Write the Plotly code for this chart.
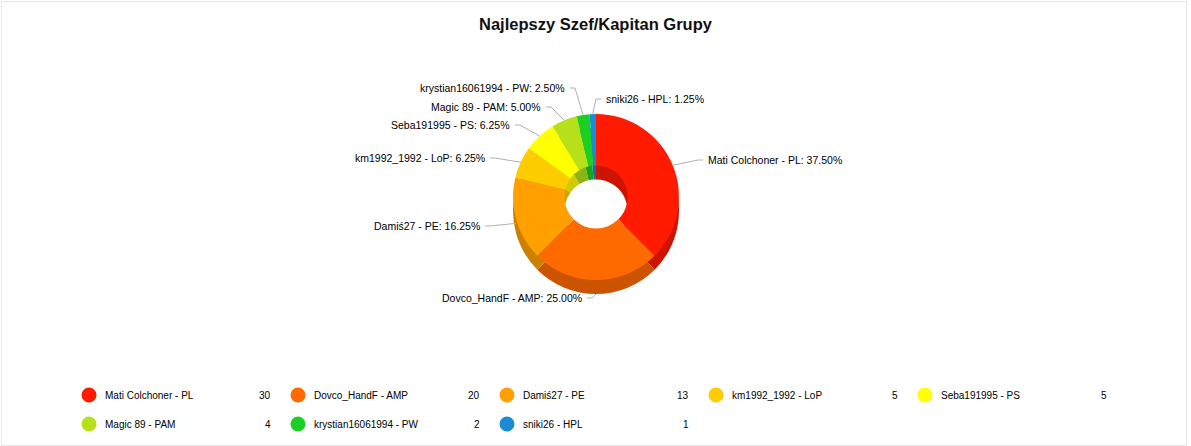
import plotly.graph_objects as go
import math

# ---------------- data ----------------
labels = ["Mati Colchoner - PL", "Dovco_HandF - AMP", "Damiś27 - PE", "km1992_1992 - LoP",
          "Seba191995 - PS", "Magic 89 - PAM", "krystian16061994 - PW", "sniki26 - HPL"]
values = [30, 20, 13, 5, 5, 4, 2, 1]
title_text = "Najlepszy Szef/Kapitan Grupy"

# ---------------- styles / layout ----------------
colors = ["#ff1a00", "#ff6a00", "#ffa000", "#ffcc00", "#ffff00", "#b5e01a", "#1ccf24", "#1a8cd6"]
W, H = 1191, 446
cx, cy, r = 596, 197, 83
depth = 14
hole = 0.38
FONT = "Liberation Sans, Arial, sans-serif"

# label anchor positions (px) and alignment for each slice label
label_pos = [(706, 160, "left"), (584, 298, "right"), (482, 226, "right"), (487, 158, "right"),
             (512, 125, "right"), (543, 107, "right"), (567, 88, "right"), (604, 99, "left")]


def px(x):
    return x / W


def py(y):
    return 1 - y / H


def darken(hexcol, f=0.8):
    h = hexcol.lstrip("#")
    rgb = [int(h[i:i + 2], 16) for i in (0, 2, 4)]
    return "rgb({},{},{})".format(*[int(c * f) for c in rgb])


side_colors = [darken(c) for c in colors]

fig = go.Figure()

# "3D" side: darker pie slightly below
fig.add_trace(go.Pie(
    labels=labels, values=values, sort=False, direction="clockwise", rotation=0,
    hole=hole, marker=dict(colors=side_colors, line=dict(width=0)),
    textinfo="none", hoverinfo="skip", showlegend=False,
    domain=dict(x=[px(cx - r), px(cx + r)], y=[py(cy + r + depth), py(cy - r + depth)]),
))
# top face
fig.add_trace(go.Pie(
    labels=labels, values=values, sort=False, direction="clockwise", rotation=0,
    hole=hole, marker=dict(colors=colors, line=dict(width=0)),
    textinfo="none", showlegend=False,
    domain=dict(x=[px(cx - r), px(cx + r)], y=[py(cy + r), py(cy - r)]),
))

total = sum(values)
annotations = []
shapes = []

# data labels with connectors
cum = 0
for lab, v, (lx, ly, side) in zip(labels, values, label_pos):
    mid = (cum + v / 2) / total * 2 * math.pi
    cum += v
    ex = cx + r * math.sin(mid)
    ey = cy - r * math.cos(mid)
    if math.cos(mid) < 0:
        ey += depth * (-math.cos(mid))
    if side == "left":
        bx, endx = lx - 8, lx - 3
        xanchor = "left"
    else:
        bx, endx = lx + 8, lx + 3
        xanchor = "right"
    shapes.append(dict(type="path", xref="paper", yref="paper",
                       path=f"M {px(ex)} {py(ey)} L {px(bx)} {py(ly)} L {px(endx)} {py(ly)}",
                       line=dict(color="#b0b0b0", width=1)))
    annotations.append(dict(text=f"{lab}: {v / total * 100:.2f}%", x=px(lx), y=py(ly),
                            xref="paper", yref="paper", xanchor=xanchor, yanchor="middle",
                            showarrow=False, font=dict(family=FONT, size=10.5, color="#000000")))

# custom legend
for i, (lab, v, col) in enumerate(zip(labels, values, colors)):
    row, colm = divmod(i, 5)
    mx = 89 + 209 * colm
    my = 395 + 29 * row
    shapes.append(dict(type="circle", xref="paper", yref="paper",
                       x0=px(mx - 7.5), x1=px(mx + 7.5), y0=py(my + 7.5), y1=py(my - 7.5),
                       fillcolor=col, line=dict(width=0)))
    annotations.append(dict(text=lab, x=px(mx + 14), y=py(my), xref="paper", yref="paper",
                            xanchor="left", yanchor="middle", showarrow=False,
                            font=dict(family=FONT, size=10, color="#000000")))
    annotations.append(dict(text=str(v), x=px(mx + 184), y=py(my), xref="paper", yref="paper",
                            xanchor="right", yanchor="middle", showarrow=False,
                            font=dict(family=FONT, size=10, color="#000000")))

# card border
shapes.append(dict(type="rect", xref="paper", yref="paper", x0=px(1.5), x1=px(W - 4.5),
                   y0=py(H - 0.5), y1=py(1.5), line=dict(color="#e4e4e4", width=1)))

# title
annotations.append(dict(text=f"<b>{title_text}</b>", x=px(596), y=py(24), xref="paper", yref="paper",
                        xanchor="center", yanchor="middle", showarrow=False,
                        font=dict(family=FONT, size=16.5, color="#111111")))

fig.update_layout(
    width=W, height=H, margin=dict(l=0, r=0, t=0, b=0),
    paper_bgcolor="#ffffff", plot_bgcolor="#ffffff",
    annotations=annotations, shapes=shapes, showlegend=False,
)

fig.write_html("out.html", config={"displayModeBar": False},
               post_script="document.body.style.margin='0';document.body.style.overflow='hidden';")
